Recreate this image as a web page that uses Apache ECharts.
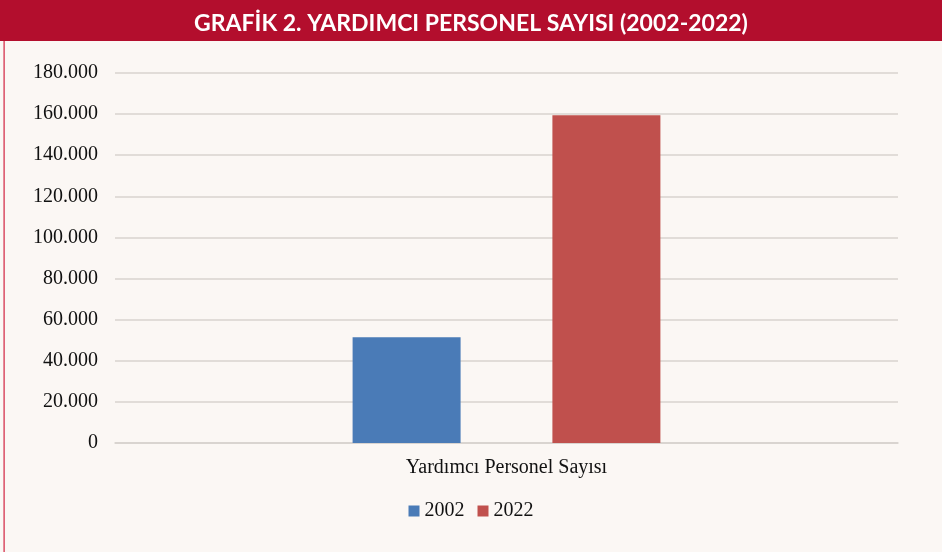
<!DOCTYPE html>
<html>
<head>
<meta charset="utf-8">
<script src="https://cdn.jsdelivr.net/npm/echarts@6/dist/echarts.min.js"></script>
<style>
  html, body { margin: 0; padding: 0; background: #fbf7f4; }
  #chart { width: 942px; height: 552px; }
</style>
</head>
<body>
<div id="chart"></div>
<script>
// data
var categories = ["Yardımcı Personel Sayısı"];
var years = ["2002", "2022"];
var values2002 = [51500];
var values2022 = [159400];
var yTicks = { min: 0, max: 180000, interval: 20000 };

var chart = echarts.init(document.getElementById("chart"));

function fmt(v) {
  return String(v).replace(/\B(?=(\d{3})+(?!\d))/g, ".");
}

var option = {
  backgroundColor: "#fbf7f4",
  animation: false,
  title: {
    text: "GRAFİK 2. YARDIMCI PERSONEL SAYISI (2002-2022)",
    left: "center",
    top: 7,
    textStyle: {
      color: "#ffffff",
      fontFamily: "Lato, sans-serif",
      fontWeight: "bold",
      fontSize: 23
    }
  },
  graphic: [
    {
      type: "rect",
      z: -1,
      shape: { x: 0, y: 0, width: 942, height: 41 },
      style: { fill: "#b30e2d" }
    },
    {
      type: "rect",
      shape: { x: 3.5, y: 41, width: 1.2, height: 511 },
      style: { fill: "#d2223f" }
    }
  ],
  legend: {
    data: years,
    bottom: 26,
    left: "center",
    itemWidth: 11,
    itemHeight: 11,
    itemGap: 13,
    icon: "rect",
    textStyle: {
      fontFamily: "'Liberation Serif', serif",
      fontSize: 20,
      color: "#111"
    }
  },
  grid: {
    left: 115,
    right: 44,
    top: 73,
    bottom: 109
  },
  xAxis: {
    type: "category",
    data: categories,
    axisLine: { show: true, lineStyle: { color: "#d6d1cd", width: 1.5 } },
    axisTick: { show: false },
    axisLabel: {
      margin: 15,
      fontFamily: "'Liberation Serif', serif",
      fontSize: 20,
      color: "#111"
    }
  },
  yAxis: {
    type: "value",
    min: yTicks.min,
    max: yTicks.max,
    interval: yTicks.interval,
    axisLine: { show: false },
    axisTick: { show: false },
    splitLine: { lineStyle: { color: "#d8d3cf", width: 1.5 } },
    axisLabel: {
      margin: 17,
      formatter: fmt,
      fontFamily: "'Liberation Serif', serif",
      fontSize: 20,
      color: "#111"
    }
  },
  series: [
    {
      name: years[0],
      type: "bar",
      data: values2002,
      barWidth: 108,
      barGap: "85%",
      itemStyle: { color: "#4a7bb7" }
    },
    {
      name: years[1],
      type: "bar",
      data: values2022,
      barWidth: 108,
      barGap: "85%",
      itemStyle: { color: "#c0504d" }
    }
  ]
};

chart.setOption(option);
</script>
</body>
</html>
